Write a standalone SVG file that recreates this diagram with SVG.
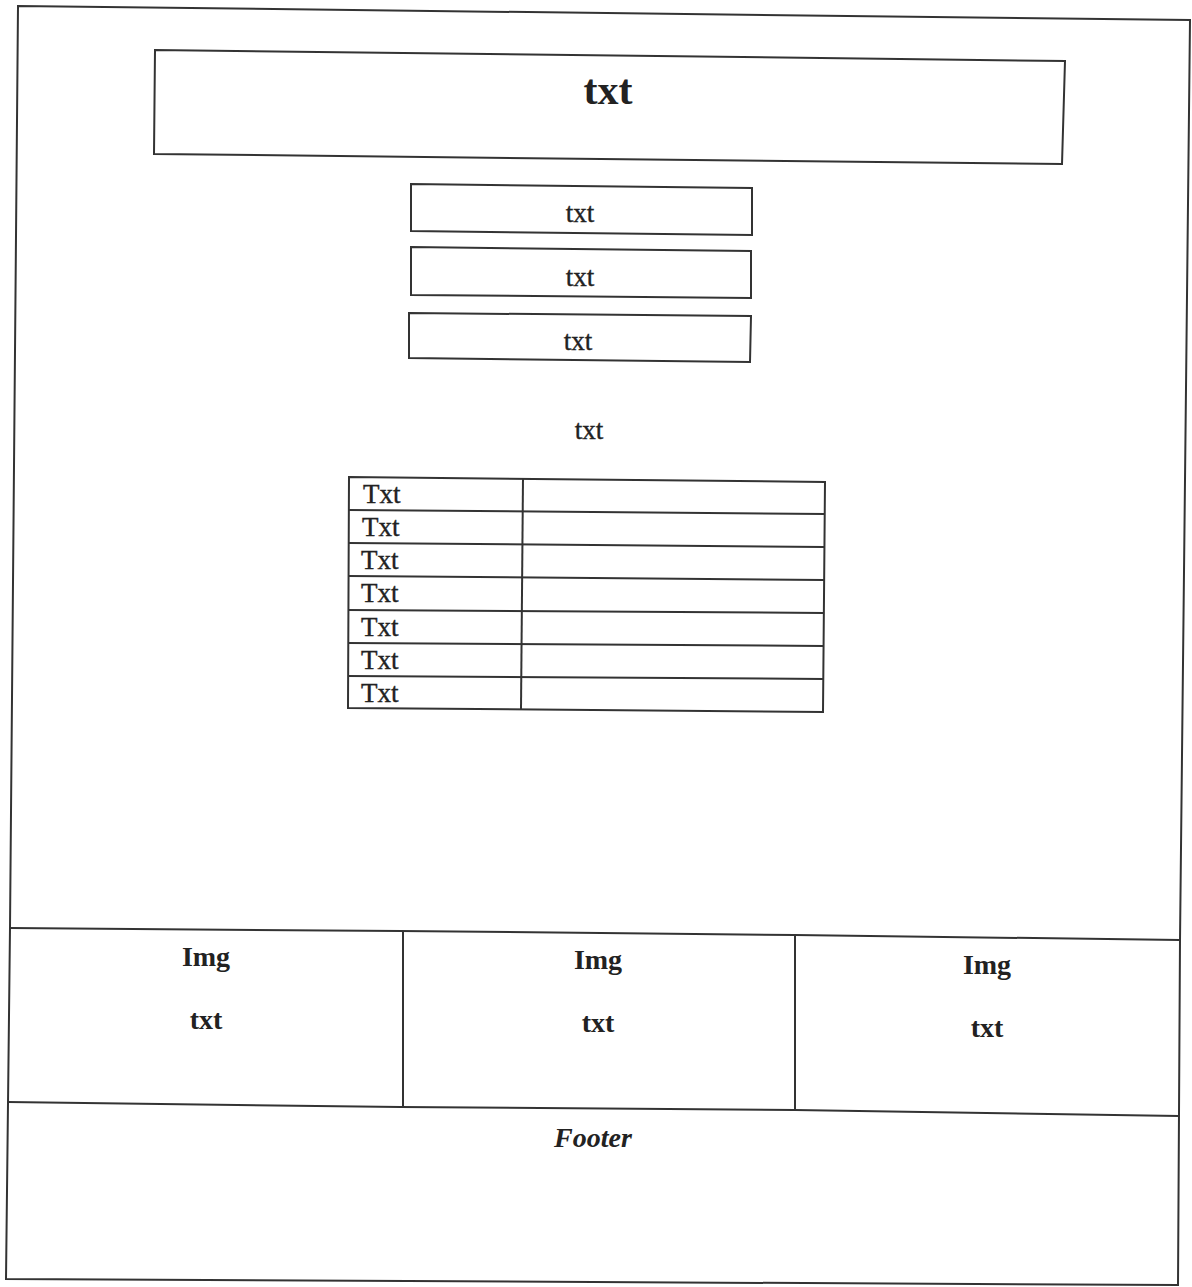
<svg xmlns="http://www.w3.org/2000/svg" width="1192" height="1287" viewBox="0 0 1192 1287">
<style>
.ln{fill:none;stroke:#333;stroke-width:2;stroke-linejoin:miter}
.t{font-family:"Liberation Serif",serif;fill:#222;text-anchor:middle}
.reg{font-size:27px;stroke:#222;stroke-width:0.4}
.b{font-size:28px;font-weight:bold}
.cell{font-family:"Liberation Serif",serif;fill:#222;font-size:27px;stroke:#222;stroke-width:0.4}
</style>
<rect width="1192" height="1287" fill="#fff"/>
<g id="page">
<polygon class="ln" points="18,6 1190,20 1180,940 1178,1285 6,1279 10,928"/>
</g>
<g id="header">
<polygon class="ln" points="155,50 1065,61 1062,164 154,154"/>
<text class="t" x="608" y="104" style="font-size:42px;font-weight:bold">txt</text>
</g>
<g id="btn1">
<polygon class="ln" points="411,184 752,188 752,235 411,231"/>
<text class="t reg" x="580" y="222">txt</text>
</g>
<g id="btn2">
<polygon class="ln" points="411,247 751,251 751,298 411,295"/>
<text class="t reg" x="580" y="286">txt</text>
</g>
<g id="btn3">
<polygon class="ln" points="409,313 751,316 750,362 409,358"/>
<text class="t reg" x="578" y="350">txt</text>
</g>
<g id="caption">
<text class="t reg" x="589" y="439">txt</text>
</g>
<g id="table">
<polygon class="ln" points="349,477 825,482 823,712 348,708"/>
<line class="ln" x1="523" y1="478" x2="521" y2="709"/>
<line class="ln" x1="349" y1="510" x2="825" y2="514"/>
<line class="ln" x1="349" y1="543" x2="824" y2="547"/>
<line class="ln" x1="349" y1="576" x2="824" y2="580"/>
<line class="ln" x1="348" y1="610" x2="824" y2="613"/>
<line class="ln" x1="348" y1="643" x2="824" y2="646"/>
<line class="ln" x1="348" y1="676" x2="824" y2="679"/>
<text class="cell" x="363" y="503">Txt</text>
<text class="cell" x="362" y="536">Txt</text>
<text class="cell" x="361" y="569">Txt</text>
<text class="cell" x="361" y="602">Txt</text>
<text class="cell" x="361" y="636">Txt</text>
<text class="cell" x="361" y="669">Txt</text>
<text class="cell" x="361" y="702">Txt</text>
</g>
<g id="panels">
<polyline class="ln" points="10,928 400,931 795,935 1180,940"/>
<polyline class="ln" points="8,1102 400,1107 795,1110 1179,1116"/>
<line class="ln" x1="403" y1="931" x2="403" y2="1107"/>
<line class="ln" x1="795" y1="935" x2="795" y2="1110"/>
</g>
<g id="card1">
<text class="t b" x="206" y="966">Img</text>
<text class="t b" x="206" y="1029">txt</text>
</g>
<g id="card2">
<text class="t b" x="598" y="969">Img</text>
<text class="t b" x="598" y="1032">txt</text>
</g>
<g id="card3">
<text class="t b" x="987" y="974">Img</text>
<text class="t b" x="987" y="1037">txt</text>
</g>
<g id="footer">
<text class="t" x="593" y="1147" style="font-size:28px;font-weight:bold;font-style:italic">Footer</text>
</g>
</svg>
